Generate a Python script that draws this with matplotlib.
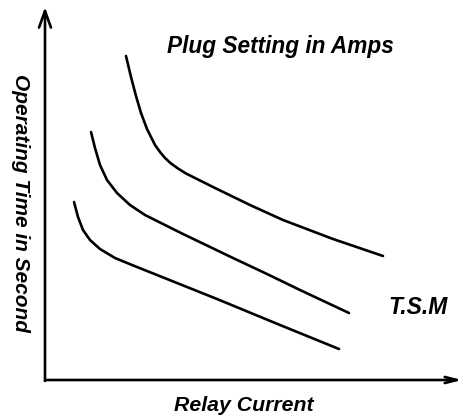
import matplotlib.pyplot as plt

# courbes (x = courant relais, y = temps), origine au coin des axes
x_haut = [81, 86, 91, 96, 102, 110, 115, 120, 126, 133, 141, 150, 170, 205, 238, 288, 338]
y_haut = [325, 304, 285, 268, 252, 236, 229, 223, 217.5, 212.5, 207.5, 203, 193, 176, 161, 142, 125]

x_milieu = [46, 50, 55, 62, 72, 85, 100, 120, 138, 188, 222, 255, 304]
y_milieu = [249, 233, 216, 201, 188, 176, 166, 156, 147, 123, 107, 91, 68]

x_bas = [29, 33, 38, 45, 55, 70, 87, 107, 127, 172, 235, 294]
y_bas = [179, 164, 151, 141, 132, 123, 116, 108, 100, 82, 56, 32]

titre = "Plug Setting in Amps"
label_x = "Relay Current"
label_y = "Operating Time in Second"
label_tsm = "T.S.M"

plt.rcParams['font.family'] = ['Liberation Sans', 'DejaVu Sans']

fig = plt.figure(figsize=(4.63, 4.19), dpi=100)
ax = fig.add_axes([0, 0, 1, 1])
ax.set_xlim(-45, 418)
ax.set_ylim(-38, 381)
ax.axis('off')

lw = 1.9
for xs, ys in [(x_haut, y_haut), (x_milieu, y_milieu), (x_bas, y_bas)]:
    ax.plot(xs, ys, color='black', lw=lw, solid_capstyle='round',
            solid_joinstyle='round')

# axes avec fleches
ax.annotate('', xy=(0, 374), xytext=(0, 0),
            arrowprops=dict(arrowstyle='->,head_length=1.2,head_width=0.43',
                            lw=lw, color='black', shrinkA=0, shrinkB=0))
ax.annotate('', xy=(417, 1), xytext=(0, 1),
            arrowprops=dict(arrowstyle='->,head_length=0.86,head_width=0.22',
                            lw=lw, color='black', shrinkA=0, shrinkB=0))

style = dict(fontweight='bold', fontstyle='italic', va='center')
ax.text(122, 334.5, titre, fontsize=16.3, ha='left', **style)
ax.text(199, -24, label_x, fontsize=15.3, ha='center', **style)
ax.text(343, 73, label_tsm, fontsize=16.5, ha='left', **style)
ax.text(-25, 178.5, label_y, fontsize=15, ha='center', rotation=-90, **style)

plt.savefig('out.png', dpi=100)
